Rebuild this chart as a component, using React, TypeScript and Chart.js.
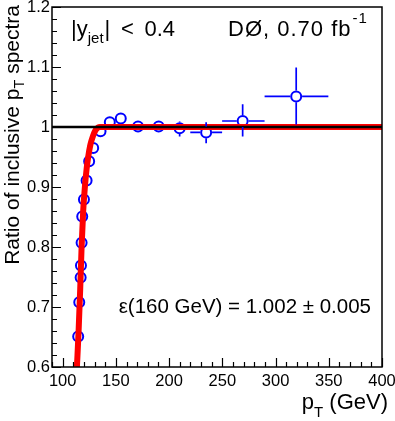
import React, { useEffect, useRef } from 'react';
import { Chart, registerables } from 'chart.js';
Chart.register(...registerables);

// Data points (ratio of inclusive pT spectra)
const pointX = [114.6, 115.6, 116.9, 117.2, 117.8, 118.4, 120.0, 122.5, 124.9, 128.7, 135.6, 144.3, 154.6, 170.8, 190.2, 209.9, 234.8, 269.1, 319.4];
const pointY = [0.651, 0.708, 0.749, 0.769, 0.807, 0.851, 0.879, 0.911, 0.943, 0.965, 0.993, 1.008, 1.014, 1.001, 1.001, 0.998, 0.991, 1.010, 1.051];
// Error bars (null = not visible)
const yLow: (number | null)[] = [null, null, null, null, null, null, null, null, null, null, null, null, null, null, null, 0.984, 0.973, 0.984, 1.004];
const yHigh: (number | null)[] = [null, null, null, null, null, null, null, null, null, null, null, null, null, null, null, 1.009, 1.008, 1.038, 1.099];
const xLow: (number | null)[] = [null, null, null, null, null, null, null, null, null, null, null, null, null, null, null, null, 219.9, 249.8, 289.7];
const xHigh: (number | null)[] = [null, null, null, null, null, null, null, null, null, null, null, null, null, null, null, null, 249.8, 289.7, 349.6];

// Fit curve
const fitX = [113.4, 115.0, 116.5, 117.8, 119.3, 120.9, 122.5, 124.0, 126.0, 128.5, 131.0, 135.0, 400];
const fitY = [0.6, 0.66, 0.73, 0.8, 0.86, 0.9, 0.93, 0.95, 0.97, 0.985, 0.995, 1.0, 1.0];

// Reference line at unity
const refX = [90, 400];
const refY = [1, 1];

// Axes
const xMin = 90;
const xMax = 400;
const xTickLabels = [100, 150, 200, 250, 300, 350, 400];
const yMin = 0.6;
const yMax = 1.2;
const yTickLabels = [0.6, 0.7, 0.8, 0.9, 1, 1.1, 1.2];

const FONT = '"Liberation Sans", Arial, Helvetica, sans-serif';
const BLUE = '#0000ff';
const MARKER_R = 5;

const decor = {
  id: 'decor',
  afterDatasetsDraw(chart: any) {
    const ctx = chart.ctx;
    const xs = chart.scales.x;
    const ys = chart.scales.y;
    ctx.save();
    ctx.strokeStyle = BLUE;
    ctx.lineWidth = 1.7;
    const gap = MARKER_R + 0.9;
    for (let i = 0; i < pointX.length; i++) {
      const px = xs.getPixelForValue(pointX[i]);
      const py = ys.getPixelForValue(pointY[i]);
      ctx.beginPath();
      if (yHigh[i] != null) {
        const t = ys.getPixelForValue(yHigh[i] as number);
        if (py - gap > t) { ctx.moveTo(px, py - gap); ctx.lineTo(px, t); }
      }
      if (yLow[i] != null) {
        const b = ys.getPixelForValue(yLow[i] as number);
        if (py + gap < b) { ctx.moveTo(px, py + gap); ctx.lineTo(px, b); }
      }
      if (xLow[i] != null) {
        const l = xs.getPixelForValue(xLow[i] as number);
        if (px - gap > l) { ctx.moveTo(px - gap, py); ctx.lineTo(l, py); }
      }
      if (xHigh[i] != null) {
        const r = xs.getPixelForValue(xHigh[i] as number);
        if (px + gap < r) { ctx.moveTo(px + gap, py); ctx.lineTo(r, py); }
      }
      ctx.stroke();
    }
    ctx.restore();
  },
  afterDraw(chart: any) {
    const ctx = chart.ctx;
    const a = chart.chartArea;
    const xs = chart.scales.x;
    const ys = chart.scales.y;
    ctx.save();
    ctx.strokeStyle = '#000';
    ctx.lineWidth = 1.5;
    ctx.strokeRect(a.left, a.top, a.right - a.left, a.bottom - a.top);
    ctx.lineWidth = 1.2;
    ctx.beginPath();
    // x ticks (inward)
    for (let v = xMin; v <= xMax + 0.001; v += 10) {
      const major = Math.abs(v % 50) < 0.001;
      const px = Math.round(xs.getPixelForValue(v)) + 0.5;
      const len = major ? 9 : 5;
      ctx.moveTo(px, a.bottom);
      ctx.lineTo(px, a.bottom - len);
    }
    // y ticks (inward)
    for (let k = 0; k <= 30; k++) {
      const v = yMin + k * 0.02;
      const major = k % 5 === 0;
      const py = Math.round(ys.getPixelForValue(v)) + 0.5;
      const len = major ? 9 : 5;
      ctx.moveTo(a.left, py);
      ctx.lineTo(a.left + len, py);
    }
    ctx.stroke();

    ctx.fillStyle = '#000';
    ctx.textBaseline = 'alphabetic';
    ctx.textAlign = 'left';
    const base = 36;
    // |y_jet| < 0.4
    ctx.font = `22px ${FONT}`;
    ctx.fillText('|y', 71, base);
    let x = 71 + ctx.measureText('|y').width;
    ctx.font = `15px ${FONT}`;
    ctx.fillText('jet', x, base + 7);
    x += ctx.measureText('jet').width + 1;
    ctx.font = `22px ${FONT}`;
    ctx.fillText('|', x, base);
    x += ctx.measureText('|').width;
    const w04 = ctx.measureText('0.4').width;
    const wlt = ctx.measureText('<').width;
    const end1 = 175;
    const sp = (end1 - w04 - wlt - x) / 2;
    ctx.fillText('<', x + sp, base);
    ctx.fillText('0.4', end1 - w04, base);

    // DØ, 0.70 fb^-1
    (ctx as any).letterSpacing = '1px';
    ctx.font = `22px ${FONT}`;
    const mainTxt = 'DØ, 0.70 fb';
    const mw = ctx.measureText(mainTxt).width;
    ctx.fillText(mainTxt, 228, base);
    ctx.font = `15px ${FONT}`;
    ctx.fillText('-1', 228 + mw + 1, base - 13);
    (ctx as any).letterSpacing = '0px';

    // epsilon text
    ctx.font = `20.5px ${FONT}`;
    ctx.textAlign = 'right';
    ctx.fillText('ε(160 GeV) = 1.002 ± 0.005', 371, 313);

    // x title p_T (GeV)
    ctx.textAlign = 'left';
    ctx.font = `22px ${FONT}`;
    const pW = ctx.measureText('p').width;
    ctx.font = `15px ${FONT}`;
    const tW = ctx.measureText('T').width;
    ctx.font = `22px ${FONT}`;
    const gW = ctx.measureText(' (GeV)').width;
    x = 388 - pW - tW - gW;
    ctx.fillText('p', x, 409);
    ctx.font = `15px ${FONT}`;
    ctx.fillText('T', x + pW, 417);
    ctx.font = `22px ${FONT}`;
    ctx.fillText(' (GeV)', x + pW + tW, 409);

    // y title rotated, right-aligned to the top of the axis
    ctx.translate(19, 5);
    ctx.rotate(-Math.PI / 2);
    ctx.font = `21px ${FONT}`;
    const s1 = 'Ratio of inclusive p';
    const s3 = ' spectra';
    const w1 = ctx.measureText(s1).width;
    const w3 = ctx.measureText(s3).width;
    ctx.font = `14.5px ${FONT}`;
    const w2 = ctx.measureText('T').width;
    const total = w1 + w2 + w3;
    let tx = -total;
    ctx.font = `21px ${FONT}`;
    ctx.fillText(s1, tx, 0);
    tx += w1;
    ctx.font = `14.5px ${FONT}`;
    ctx.fillText('T', tx, 5);
    tx += w2;
    ctx.font = `21px ${FONT}`;
    ctx.fillText(s3, tx, 0);
    ctx.restore();
  },
};

export default function App() {
  const ref = useRef<HTMLCanvasElement | null>(null);
  useEffect(() => {
    document.body.style.margin = '0';
    const canvas = ref.current!;
    const chart = new Chart(canvas, {
      type: 'scatter',
      data: {
        datasets: [
          {
            label: 'unity',
            data: refX.map((x, i) => ({ x, y: refY[i] })),
            showLine: true,
            borderColor: '#000',
            borderWidth: 2.5,
            pointRadius: 0,
            order: 1,
          },
          {
            label: 'fit',
            data: fitX.map((x, i) => ({ x, y: fitY[i] })),
            showLine: true,
            borderColor: '#ff0000',
            borderWidth: 6,
            pointRadius: 0,
            cubicInterpolationMode: 'monotone',
            order: 2,
          },
          {
            label: 'data',
            data: pointX.map((x, i) => ({ x, y: pointY[i] })),
            showLine: false,
            borderColor: BLUE,
            backgroundColor: 'rgba(0,0,0,0)',
            borderWidth: 2,
            pointRadius: MARKER_R,
            pointStyle: 'circle',
            order: 3,
          },
        ] as any,
      },
      options: {
        animation: false,
        responsive: false,
        maintainAspectRatio: false,
        layout: { padding: { top: 5, right: 13, bottom: 0, left: 0 } },
        plugins: { legend: { display: false }, tooltip: { enabled: false } },
        scales: {
          x: {
            type: 'linear',
            min: xMin,
            max: xMax,
            grid: { display: false, drawTicks: false },
            border: { display: false },
            afterBuildTicks: (s: any) => { s.ticks = xTickLabels.map((v) => ({ value: v })); },
            afterFit: (s: any) => { s.height = 54; s.paddingLeft = 0; s.paddingRight = 0; s.paddingTop = 0; s.paddingBottom = 0; },
            ticks: { color: '#000', font: { family: FONT, size: 16.5 }, padding: 5, maxRotation: 0, autoSkip: false },
          },
          y: {
            type: 'linear',
            min: yMin,
            max: yMax,
            grid: { display: false, drawTicks: false },
            border: { display: false },
            afterBuildTicks: (s: any) => { s.ticks = yTickLabels.map((v) => ({ value: v })); },
            afterFit: (s: any) => { s.width = 52; s.paddingLeft = 0; s.paddingRight = 0; s.paddingTop = 0; s.paddingBottom = 0; },
            ticks: { color: '#000', font: { family: FONT, size: 16.5 }, padding: 2, autoSkip: false, callback: (v: any) => String(Math.round(v * 10) / 10) },
          },
        },
      } as any,
      plugins: [decor],
    });
    return () => chart.destroy();
  }, []);
  return (
    <div style={{ position: 'absolute', left: 0, top: 0, width: 395, height: 421, background: '#fff' }}>
      <canvas ref={ref} width={395} height={421} style={{ width: 395, height: 421, display: 'block' }} />
    </div>
  );
}
